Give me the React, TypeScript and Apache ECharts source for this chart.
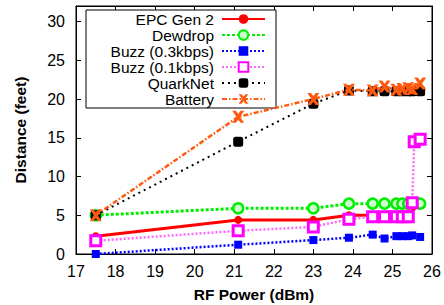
import React, { useEffect, useRef } from "react";
import * as echarts from "echarts";

const seriesNames = ["EPC Gen 2", "Dewdrop", "Buzz (0.3kbps)", "Buzz (0.1kbps)", "QuarkNet", "Battery"];

const powerLevels = [17.5, 21.1, 23, 23.9, 24.5, 24.8, 25.1, 25.25, 25.4, 25.5, 25.7];

const epcX = [17.5, 21.1, 23, 23.9, 24.5, 24.8, 25.1, 25.25, 25.4, 25.5];
const epcY = [2.3, 4.4, 4.4, 5.0, 5.0, 5.0, 5.0, 5.0, 5.2, 6.0];

const dewdropY = [5.0, 5.9, 5.9, 6.5, 6.5, 6.5, 6.5, 6.5, 6.5, 6.5, 6.5];

const buzz03Y = [0.0, 1.2, 1.8, 2.1, 2.5, 2.0, 2.3, 2.3, 2.3, 2.4, 2.2];

const buzz01X = [17.5, 21.1, 23, 23.9, 24.5, 24.8, 25.1, 25.25, 25.4, 25.5, 25.55, 25.7];
const buzz01Y = [1.7, 3.0, 3.5, 4.5, 4.8, 4.8, 4.8, 4.8, 4.8, 6.6, 14.5, 14.8];

const quarkY = [5.0, 14.5, 19.4, 21.1, 21.0, 21.0, 21.0, 21.0, 21.0, 21.0, 21.0];

const batteryY = [5.0, 17.7, 20.0, 21.2, 21.1, 21.6, 21.2, 21.3, 21.4, 21.3, 22.0];

const xTicks = { min: 17, max: 26, interval: 1 };
const yTicks = { min: 0, max: 32, interval: 5 };

const pairs = (xs: number[], ys: number[]) => ys.map((y, i) => [xs[i], y]);

const X_SYMBOL =
  "path://M0,0 L3,0 L5,2.6 L7,0 L10,0 L6.6,5 L10,10 L7,10 L5,7.4 L3,10 L0,10 L3.4,5 Z";

export default function App() {
  const ref = useRef<HTMLDivElement>(null);
  useEffect(() => {
    if (!ref.current) return;
    const chart = echarts.init(ref.current, null, { renderer: "svg" });
    const font = "Liberation Sans, Arial, Helvetica, sans-serif";
    const axisCommon = {
      axisLine: { show: true, onZero: false, lineStyle: { color: "#000", width: 1 } },
      axisTick: { show: true, inside: true, length: 5, lineStyle: { color: "#000" } },
      splitLine: { show: false },
    };
    chart.setOption({
      animation: false,
      backgroundColor: "#fff",
      textStyle: { fontFamily: font },
      grid: {
        left: 76,
        right: 12,
        top: 6,
        bottom: 51,
        show: true,
        borderColor: "#000",
        borderWidth: 1,
        containLabel: false,
        outerBoundsMode: "none",
      },
      legend: {
        show: true,
        orient: "vertical",
        left: 86,
        top: 10,
        align: "right",
        itemWidth: 43,
        itemHeight: 12,
        itemGap: 0,
        padding: [1, 10, 1, 2],
        backgroundColor: "#fff",
        borderColor: "#000",
        borderWidth: 1,
        borderRadius: 0,
        data: seriesNames,
        textStyle: {
          fontFamily: font,
          fontSize: 15.5,
          color: "#000",
          width: 126,
          align: "right",
          lineHeight: 15.7,
          padding: [0, 3, 0, 0],
        },
      },
      xAxis: [
        {
          type: "value",
          ...xTicks,
          ...axisCommon,
          name: "RF Power (dBm)",
          nameLocation: "middle",
          nameGap: 32,
          nameTextStyle: { fontFamily: font, fontWeight: "bold", fontSize: 15.5, color: "#000" },
          axisLabel: { fontFamily: font, fontSize: 16, color: "#000", margin: 9 },
        },
        {
          type: "value",
          position: "top",
          ...xTicks,
          ...axisCommon,
          axisLabel: { show: false },
        },
      ],
      yAxis: [
        {
          type: "value",
          ...yTicks,
          ...axisCommon,
          name: "Distance (feet)",
          nameLocation: "middle",
          nameGap: 48,
          nameTextStyle: { fontFamily: font, fontWeight: "bold", fontSize: 15.5, color: "#000" },
          axisLabel: { fontFamily: font, fontSize: 16, color: "#000", margin: 11, showMaxLabel: false },
        },
        {
          type: "value",
          position: "right",
          ...yTicks,
          ...axisCommon,
          axisLabel: { show: false },
        },
      ],
      series: [
        {
          name: seriesNames[0],
          type: "line",
          data: pairs(epcX, epcY),
          symbol: "circle",
          symbolSize: 8,
          itemStyle: { color: "#ff0000" },
          lineStyle: { color: "#ff0000", width: 3, type: "solid" },
          z: 3,
        },
        {
          name: seriesNames[1],
          type: "line",
          data: pairs(powerLevels, dewdropY),
          symbol: "circle",
          symbolSize: 10,
          itemStyle: { color: "#ccffcc", borderColor: "#00ee00", borderWidth: 2.5 },
          lineStyle: { color: "#00ee00", width: 3, type: [3, 2] },
          z: 2,
        },
        {
          name: seriesNames[2],
          type: "line",
          data: pairs(powerLevels, buzz03Y),
          symbol: "rect",
          symbolSize: 8,
          itemStyle: { color: "#0000ff" },
          lineStyle: { color: "#0000ff", width: 2.5, type: [2, 2] },
          z: 4,
        },
        {
          name: seriesNames[3],
          type: "line",
          data: pairs(buzz01X, buzz01Y),
          symbol: "rect",
          symbolSize: 10,
          itemStyle: { color: "#ffffff", borderColor: "#ff00ff", borderWidth: 3 },
          lineStyle: { color: "#ff66ff", width: 2.5, type: [2, 2] },
          z: 5,
        },
        {
          name: seriesNames[4],
          type: "line",
          data: pairs(powerLevels, quarkY),
          symbol: "roundRect",
          symbolSize: 10,
          itemStyle: { color: "#000000" },
          lineStyle: { color: "#000000", width: 2, type: [2, 4] },
          z: 6,
        },
        {
          name: seriesNames[5],
          type: "line",
          data: pairs(powerLevels, batteryY),
          symbol: X_SYMBOL,
          symbolSize: 12,
          itemStyle: { color: "#ff5a10" },
          lineStyle: { color: "#ff5a10", width: 2.5, type: [5, 2, 1.5, 2] },
          z: 7,
        },
      ],
    });
    return () => chart.dispose();
  }, []);
  return <div ref={ref} style={{ width: 444, height: 305, position: "absolute", left: 0, top: 0 }} />;
}
